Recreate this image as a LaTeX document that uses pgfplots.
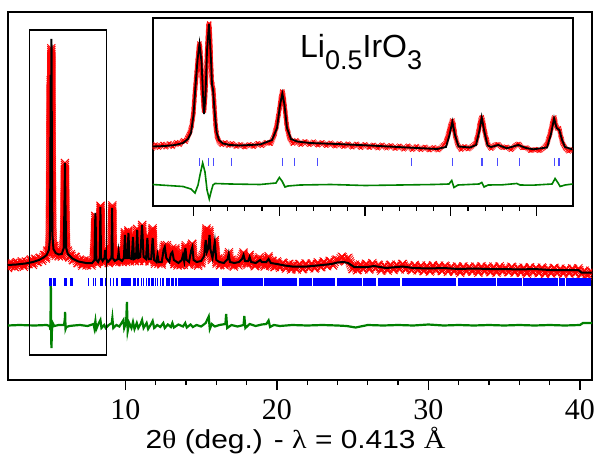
\documentclass[border=0pt]{standalone}
\usepackage{pgfplots}
\pgfplotsset{compat=1.18}
\usepackage{pgfplotstable}
\usepackage{fontspec}
\setmainfont{Liberation Sans}
\newfontfamily\serif{Liberation Serif}
\usetikzlibrary{decorations.markings}

% observed points drawn as crosses along the measured profile
\tikzset{
  obsmain/.style={draw=none, postaction={decorate}, decoration={markings,
    mark=between positions 0 and 1 step 2pt with {\pgftransformresetnontranslations
      \draw[red, line width=0.8pt] (-4pt,-4pt)--(4pt,4pt) (-4pt,4pt)--(4pt,-4pt);}}},
  obsinset/.style={draw=none, postaction={decorate}, decoration={markings,
    mark=between positions 0 and 1 step 1.2pt with {\pgftransformresetnontranslations
      \draw[red, line width=0.6pt] (-2pt,-2pt)--(2pt,2pt) (-2pt,2pt)--(2pt,-2pt);}}},
}
\definecolor{diffgreen}{RGB}{0,128,0}

% Bragg reflection positions (2theta, marker height)
\pgfplotstableread[row sep=\\]{x y\\5.01 98\\5.06 98\\5.10 98\\5.27 98\\5.40 98\\6.00 98\\6.09 98\\6.37 98\\6.49 98\\7.58 98\\7.88 98\\8.02 98\\8.35 98\\8.46 98\\8.68 98\\9.00 98\\9.23 98\\9.45 98\\9.78 98\\9.86 98\\9.93 98\\10.02 98\\10.10 98\\10.20 98\\10.27 98\\10.33 98\\10.53 98\\10.62 98\\10.80 98\\10.88 98\\11.05 98\\11.20 98\\11.38 98\\11.52 98\\11.60 98\\11.75 98\\11.84 98\\11.98 98\\12.12 98\\12.30 98\\12.45 98\\12.53 98\\12.70 98\\12.80 98\\12.92 98\\13.08 98\\13.18 98\\13.30 98\\13.38 98\\13.50 98\\13.62 98\\13.70 98\\13.80 98\\13.92 98\\14.00 98\\14.08 98\\14.20 98\\14.28 98\\14.36 98\\14.45 98\\14.52 98\\
14.6 98\\14.7 98\\14.8 98\\14.9 98\\15.0 98\\15.1 98\\15.2 98\\15.3 98\\15.4 98\\15.5 98\\15.6 98\\15.7 98\\15.8 98\\15.9 98\\16.0 98\\16.1 98\\16.4 98\\16.5 98\\16.6 98\\16.7 98\\16.8 98\\16.9 98\\
17.0 98\\17.1 98\\17.2 98\\17.3 98\\17.4 98\\17.5 98\\17.6 98\\17.7 98\\17.8 98\\17.9 98\\18.0 98\\18.1 98\\18.2 98\\18.3 98\\18.4 98\\18.5 98\\18.6 98\\18.7 98\\18.8 98\\18.9 98\\
19.0 98\\19.2 98\\19.3 98\\19.4 98\\19.5 98\\19.6 98\\19.7 98\\19.8 98\\19.9 98\\20.0 98\\20.1 98\\20.2 98\\20.3 98\\20.4 98\\20.5 98\\20.6 98\\20.7 98\\20.8 98\\20.9 98\\
21.0 98\\21.1 98\\21.2 98\\21.3 98\\21.5 98\\21.6 98\\21.7 98\\21.8 98\\21.9 98\\22.0 98\\22.1 98\\22.2 98\\22.3 98\\22.4 98\\22.5 98\\22.6 98\\22.7 98\\22.8 98\\22.9 98\\
23.0 98\\23.1 98\\23.2 98\\23.3 98\\23.4 98\\23.5 98\\23.6 98\\23.7 98\\23.8 98\\24.0 98\\24.1 98\\24.2 98\\24.3 98\\24.4 98\\24.5 98\\24.6 98\\24.7 98\\24.8 98\\24.9 98\\
25.0 98\\25.1 98\\25.2 98\\25.3 98\\25.4 98\\25.5 98\\25.6 98\\25.7 98\\25.8 98\\25.9 98\\26.0 98\\26.1 98\\26.2 98\\26.3 98\\26.4 98\\26.5 98\\26.7 98\\26.8 98\\26.9 98\\
27.0 98\\27.1 98\\27.2 98\\27.3 98\\27.4 98\\27.5 98\\27.6 98\\27.7 98\\27.8 98\\27.9 98\\28.0 98\\28.1 98\\28.3 98\\28.4 98\\28.5 98\\28.6 98\\28.7 98\\28.8 98\\28.9 98\\
29.0 98\\29.1 98\\29.2 98\\29.3 98\\29.4 98\\29.5 98\\29.6 98\\29.7 98\\29.8 98\\29.9 98\\30.0 98\\30.1 98\\30.2 98\\30.3 98\\30.4 98\\30.5 98\\30.6 98\\30.7 98\\30.8 98\\30.9 98\\
31.0 98\\31.1 98\\31.2 98\\31.3 98\\31.4 98\\31.5 98\\31.6 98\\31.7 98\\31.8 98\\32.0 98\\32.1 98\\32.2 98\\32.3 98\\32.4 98\\32.5 98\\32.6 98\\32.7 98\\32.8 98\\32.9 98\\
33.0 98\\33.1 98\\33.2 98\\33.3 98\\33.4 98\\33.5 98\\33.6 98\\33.7 98\\33.8 98\\33.9 98\\34.0 98\\34.1 98\\34.2 98\\34.3 98\\34.4 98\\34.6 98\\34.7 98\\34.8 98\\34.9 98\\
35.0 98\\35.1 98\\35.2 98\\35.3 98\\35.4 98\\35.5 98\\35.6 98\\35.7 98\\35.8 98\\35.9 98\\36.0 98\\36.1 98\\36.3 98\\36.4 98\\36.5 98\\36.6 98\\36.7 98\\36.8 98\\36.9 98\\
37.0 98\\37.1 98\\37.2 98\\37.3 98\\37.4 98\\37.5 98\\37.6 98\\37.7 98\\37.8 98\\37.9 98\\38.0 98\\38.1 98\\38.2 98\\38.3 98\\38.4 98\\38.5 98\\38.7 98\\38.8 98\\38.9 98\\
39.0 98\\39.1 98\\39.2 98\\39.3 98\\39.4 98\\39.5 98\\39.6 98\\39.7 98\\39.8 98\\39.9 98\\40.0 98\\40.1 98\\40.2 98\\40.3 98\\40.4 98\\40.5 98\\40.6 98\\40.7 98\\}\braggmain

\pgfplotstableread[row sep=\\]{x y\\4.072 44\\4.174 44\\4.233 44\\4.448 44\\5.037 44\\5.176 44\\5.449 44\\6.544 44\\7.022 44\\7.363 44\\7.546 44\\7.797 44\\8.205 44\\8.260 44\\}\bragginset

\begin{document}
\begin{tikzpicture}
\path[use as bounding box] (0pt,0pt) rectangle (596pt,466pt);

\begin{axis}[
  at={(8pt,86pt)}, anchor=south west,
  scale only axis, width=584pt, height=368pt,
  xmin=2.25, xmax=40.8, ymin=0, ymax=368,
  axis line style={line width=1.6pt},
  xtick={10,20,30,40}, minor x tick num=4,
  ytick=\empty,
  xtick pos=bottom, tick align=outside,
  major tick length=10pt, minor tick length=5pt,
  every tick/.style={black, line width=1.3pt},
  /pgf/number format/assume math mode=true,
  xticklabel style={font=\fontsize{30}{30}\selectfont\serif, anchor=base, inner sep=0pt, yshift=-29pt},
  xlabel={\scalebox{1.15}[1]{2{\serif θ} (deg.) - {\serif λ} = 0.413 {\serif Å}}},
  xlabel style={font=\fontsize{26}{26}\selectfont, at={(axis description cs:0.5,0)}, anchor=base, inner sep=0pt, yshift=-68pt, xshift=-4.5pt},
]
% observed
\addplot[obsmain] table {
2.25 112
2.35 118
2.45 113
2.55 117
2.7 112
2.85 118
3.0 114
3.15 119
3.3 113
3.45 119
3.6 115
3.75 121
3.9 115
4.05 122
4.2 117
4.35 123
4.5 119
4.65 126
4.75 121
4.85 130
4.95 126
5.0 140
5.03 200
5.05 260
5.07 300
5.09 250
5.11 332
5.13 240
5.15 200
5.18 150
5.22 128
5.3 135
5.4 124
5.5 130
5.6 123
5.7 129
5.8 123
5.9 131
5.96 150
5.99 200
6.01 218
6.03 190
6.06 150
6.1 128
6.2 130
6.3 122
6.4 126
6.55 119
6.7 124
6.85 116
7.0 121
7.15 114
7.3 120
7.45 114
7.6 120
7.75 114
7.9 121
7.97 140
8.01 165
8.03 160
8.06 130
8.12 116
8.2 122
8.28 118
8.33 150
8.36 175
8.4 140
8.44 118
8.52 124
8.6 117
8.65 132
8.7 118
8.8 123
8.9 116
9.0 123
9.08 130
9.11 170
9.14 175
9.17 130
9.22 118
9.3 124
9.4 117
9.5 125
9.55 132
9.6 118
9.7 125
9.8 117
9.9 126
9.96 148
9.99 140
10.03 118
10.1 128
10.15 120
10.2 150
10.24 125
10.3 118
10.38 126
10.45 120
10.5 146
10.55 124
10.62 118
10.7 126
10.77 152
10.82 126
10.9 118
10.98 128
11.07 150
11.11 156
11.16 130
11.25 118
11.33 128
11.42 140
11.46 145
11.5 124
11.6 118
11.68 128
11.76 150
11.8 152
11.85 126
11.95 116
12.05 124
12.12 128
12.18 116
12.28 123
12.38 115
12.47 126
12.52 133
12.6 135
12.66 126
12.75 135
12.8 118
12.9 123
13.0 130
13.1 132
13.16 122
13.25 115
13.3 132
13.35 120
13.45 114
13.55 121
13.65 114
13.75 122
13.8 128
13.86 115
13.94 133
13.98 135
14.05 118
14.12 124
14.2 115
14.3 126
14.36 135
14.42 137
14.48 123
14.58 115
14.68 121
14.8 114
14.9 122
15.0 116
15.1 125
15.2 126
15.3 145
15.35 152
15.4 130
15.46 135
15.52 150
15.56 147
15.62 128
15.7 120
15.8 126
15.9 140
15.95 130
16.02 116
16.12 122
16.25 114
16.4 121
16.55 114
16.7 122
16.78 125
16.84 128
16.9 115
17.0 121
17.15 113
17.3 120
17.45 114
17.6 120
17.72 124
17.8 128
17.86 118
17.96 122
18.06 115
18.15 122
18.2 126
18.28 116
18.4 121
18.55 113
18.7 119
18.85 123
18.95 115
19.05 121
19.2 113
19.35 120
19.45 124
19.55 114
19.7 120
19.85 112
20.0 119
20.2 112
20.4 118
20.6 111
20.8 117
20.95 110
21.1 116
21.3 110
21.5 117
21.7 110
21.9 117
22.1 111
22.3 117
22.5 111
22.7 118
22.9 112
23.1 119
23.3 113
23.5 120
23.7 114
23.9 121
24.1 119
24.3 124
24.5 118
24.7 123
24.85 117
25.0 110
25.15 116
25.3 109
25.5 116
25.7 110
25.9 117
26.1 110
26.3 117
26.5 111
26.7 116
26.9 109
27.1 115
27.3 109
27.5 116
27.7 110
27.9 116
28.1 110
28.3 117
28.5 110
28.7 115
28.9 109
29.1 115
29.3 109
29.5 115
29.7 108
29.9 115
30.1 108
30.3 115
30.5 109
30.7 115
30.9 108
31.1 115
31.3 108
31.5 114
31.7 108
31.9 114
32.1 107
32.3 114
32.5 108
32.7 114
32.9 108
33.1 114
33.3 107
33.5 114
33.7 108
33.9 114
34.1 107
34.3 114
34.5 107
34.7 114
34.9 108
35.1 113
35.3 107
35.5 114
35.7 107
35.9 113
36.1 107
36.3 113
36.5 106
36.7 113
36.9 107
37.1 113
37.3 106
37.5 113
37.7 106
37.9 112
38.1 106
38.3 113
38.5 106
38.7 112
38.9 106
39.1 112
39.3 106
39.5 112
39.7 106
39.9 112
40.1 105
40.3 110
40.5 104
40.7 110
40.8 106
};
% calculated
\addplot[black, line width=2pt] table {
2.25 115
2.8 115.5
3.4 116.5
3.9 118
4.3 120
4.6 122.5
4.8 125
4.95 130
5.02 142
5.05 220
5.07 305
5.09 230
5.12 341
5.15 220
5.18 145
5.25 131
5.4 127
5.6 125.5
5.8 126
5.93 132
5.98 180
6.01 217
6.04 180
6.09 132
6.2 126
6.5 121.5
6.9 118.5
7.4 117
7.8 117
7.96 120
8.0 155
8.02 167
8.04 155
8.08 120
8.2 118
8.31 122
8.35 173
8.39 122
8.5 119
8.62 122
8.66 130
8.70 122
8.85 118
9.08 122
9.12 172
9.16 122
9.3 119
9.5 121
9.55 128
9.6 121
9.78 119
9.9 122
9.97 145
10.03 122
10.13 122
10.2 147
10.27 122
10.42 121
10.5 143
10.57 121
10.7 122
10.78 150
10.85 122
10.98 123
11.1 155
11.2 123
11.36 121
11.45 142
11.53 121
11.7 121
11.8 142
11.9 120
12.05 118
12.12 125
12.2 118
12.4 118
12.52 130
12.6 133
12.7 122
12.9 118
13.0 126
13.1 128
13.2 120
13.5 117
13.72 120
13.8 125
13.88 119
13.96 132
14.04 120
14.2 118
14.35 130
14.42 133
14.5 120
14.7 118
15.0 119
15.2 124
15.3 140
15.38 128
15.48 132
15.55 145
15.62 130
15.75 122
15.9 138
16.0 120
16.2 118
16.5 117
16.75 121
16.82 126
16.9 118
17.2 117
17.5 118
17.7 121
17.8 125
17.9 119
18.1 119
18.2 123
18.3 118
18.6 117
18.9 120
19.0 118
19.3 118
19.45 121
19.6 117
20.0 116
20.5 114.5
21.0 113.5
22.0 113.5
23.0 115
23.6 116
24.0 117.5
24.4 118
24.7 117
25.1 113
26.0 113
26.4 114
27.2 112
28.3 113.5
29.0 112
30.0 111.5
31.0 112
32.0 111
33.0 111.5
34.0 111
35.0 111
36.0 110.5
37.0 111
38.0 110
39.0 110
39.9 110
40.1 107.5
40.8 107.5
};
% Bragg positions
\addplot[only marks, mark=|, mark size=4pt, blue, mark options={line width=1.5pt}] table[x=x, y=y] {\braggmain};
% difference
\addplot[diffgreen, line width=2.2pt] table {
2.25 54.5
3.0 55
4.0 54.5
4.8 55
5.0 54
5.05 50
5.08 97
5.10 40
5.12 32
5.15 50
5.2 57
5.3 54
5.6 55
5.95 55
6.0 61
6.02 68
6.05 51
6.1 53
6.3 54
6.6 54.5
7.0 55
7.5 54
7.9 56
7.95 52
8.02 59
8.08 51
8.2 55.5
8.35 60
8.42 52
8.6 55
8.7 52
8.9 55
9.1 57
9.14 62
9.2 52
9.4 55
9.6 53.5
9.87 60
9.92 52
10.05 58
10.1 78
10.15 49
10.25 57
10.4 52
10.5 58
10.6 51
10.75 57
10.85 52
11.0 56
11.1 60
11.2 52
11.4 57
11.5 51
11.7 56
11.8 59
11.9 52
12.1 55
12.3 53
12.5 57
12.6 52
12.8 55.5
13.0 53
13.1 57
13.2 52.5
13.5 55.5
13.8 53.5
13.95 57
14.05 52.5
14.3 55.5
14.45 53
14.7 55
15.0 53.5
15.3 57
15.5 63.5
15.57 51
15.7 56
15.9 53.5
16.2 55
16.6 56
16.65 66
16.72 52
17.0 55
17.4 53.5
17.8 55
17.85 64
17.92 52
18.2 56
18.6 54
19.0 55.5
19.3 56
19.45 59.5
19.55 53
19.8 55
20.2 54
21 55
22 54.5
23 55
24 54.5
24.6 54
25.2 52.5
26 55
27 54.5
28 55
29 54.5
30 55.5
31 54.5
32 55
33 54.5
34 55
35 54.5
36 55
37 54.5
38 55
39 54.5
40 55
40.2 57
40.8 57
};
\draw[line width=1.3pt] (axis cs:3.69,25) rectangle (axis cs:8.73,350);
\end{axis}

\begin{axis}[
  at={(152.7pt,260pt)}, anchor=south west,
  scale only axis, width=420pt, height=188pt,
  xmin=3.527, xmax=8.419, ymin=0, ymax=188,
  axis background/.style={fill=white},
  axis line style={line width=1.6pt},
  xtick={4,5,6,7,8}, minor x tick num=4, xticklabel=\empty,
  ytick=\empty,
  xtick pos=bottom, tick align=outside,
  major tick length=10pt, minor tick length=5pt,
  every tick/.style={black, line width=1.2pt},
]
\addplot[obsinset] table {
3.527 57.5
3.56 62
3.60 58
3.64 62.5
3.68 58.5
3.72 63
3.76 59
3.80 64
3.84 61
3.88 66
3.91 64
3.94 70
3.96 74
3.98 80
4.00 92
4.02 115
4.04 135
4.06 155
4.07 163
4.08 158
4.09 145
4.10 125
4.115 105
4.125 95
4.135 105
4.145 120
4.16 155
4.175 180
4.185 183
4.195 170
4.205 145
4.215 125
4.225 120
4.235 115
4.245 100
4.26 80
4.275 70
4.30 64
4.33 61
4.37 64
4.41 60
4.45 63
4.50 59
4.55 62
4.60 58.5
4.65 62
4.70 59
4.75 63
4.80 60
4.85 64
4.90 62
4.94 70
4.97 80
5.00 95
5.02 108
5.037 115
5.05 110
5.07 95
5.09 79
5.12 68
5.16 62
5.20 66
5.25 61
5.30 65
5.35 61
5.40 64.5
5.45 60.5
5.50 64
5.55 60
5.60 63.5
5.65 59.5
5.70 63
5.75 59
5.80 62.5
5.85 58.5
5.90 62.5
5.95 58
6.00 62
6.05 58
6.10 61.5
6.15 57.5
6.20 61.5
6.25 57.5
6.30 61
6.35 57
6.40 60.5
6.45 56.5
6.50 60.5
6.55 56
6.60 60
6.65 56
6.70 59.5
6.75 55.5
6.80 59
6.85 55.5
6.90 60
6.94 63
6.97 72
7.00 82
7.017 86
7.03 82
7.05 70
7.08 61
7.12 56
7.16 60
7.20 56.5
7.25 60
7.29 63
7.32 74
7.345 86
7.36 89
7.375 84
7.40 72
7.43 62
7.47 57
7.51 61
7.55 62
7.60 58
7.65 59.5
7.70 56
7.75 60.5
7.79 62.5
7.83 58
7.88 58.5
7.93 55
7.98 57
8.03 55
8.08 58
8.12 62
8.16 74
8.19 86
8.205 89
8.22 82
8.24 77
8.26 78
8.28 70
8.30 63
8.33 58
8.37 54.5
8.419 57
};
\addplot[black, line width=1.8pt] table {
3.527 59.5
3.670 60
3.787 61
3.880 63
3.938 67
3.973 73
4.002 91
4.026 121
4.049 146
4.072 162
4.096 144
4.113 111
4.125 92
4.142 111
4.160 156
4.183 182
4.206 146
4.218 121
4.229 117
4.247 96
4.270 74
4.299 66
4.346 62.5
4.427 61
4.544 60.5
4.777 61.5
4.917 66
4.975 78
5.010 101
5.037 112.5
5.062 101
5.091 78
5.138 67
5.208 64.5
5.359 63
5.670 62
6.058 60.5
6.443 58.7
6.839 57
6.943 59
6.984 71
7.017 84.3
7.048 71
7.089 59.5
7.223 58.5
7.293 61
7.334 76
7.359 88.7
7.386 76
7.427 60.5
7.468 59
7.553 61
7.651 57.7
7.786 61
7.875 58
7.960 56.7
8.120 58.5
8.166 72
8.202 87.7
8.231 78
8.263 76
8.295 66
8.330 59
8.419 56.5
};
\addplot[only marks, mark=|, mark size=4pt, blue!70, mark options={line width=1.2pt}] table[x=x, y=y] {\bragginset};
\addplot[diffgreen, line width=1.6pt] table {
3.527 21.5
3.880 19.5
3.973 17
4.020 13
4.055 21
4.078 31
4.109 43
4.136 34
4.160 16
4.186 7
4.206 14
4.229 21
4.253 22.5
4.427 22
4.777 21.5
4.963 23
5.002 28.5
5.033 25
5.068 19
5.103 20
5.243 21
5.6 21.5
6.0 20.5
6.408 21
6.8 21.5
6.978 22
7.010 25.5
7.036 18.5
7.083 21
7.328 22
7.360 23.5
7.386 19
7.433 21
7.6 21.2
7.767 22.5
7.806 21
7.95 20.8
8.179 22
8.214 27.5
8.249 23
8.272 19.5
8.330 21
8.419 22
};
\end{axis}

\node[anchor=base west, inner sep=0pt] at (300pt,408.8pt)
  {\fontsize{32}{32}\selectfont Li\raisebox{-12pt}{\fontsize{27}{27}\selectfont 0.5}IrO\raisebox{-12pt}{\fontsize{27}{27}\selectfont 3}};
\end{tikzpicture}
\end{document}
